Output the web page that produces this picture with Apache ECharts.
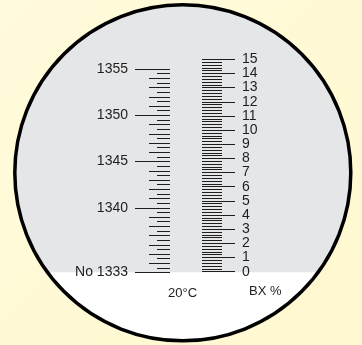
<!DOCTYPE html>
<html>
<head>
<meta charset="utf-8">
<script src="https://cdn.jsdelivr.net/npm/echarts@6/dist/echarts.min.js"></script>
<style>
  html, body { margin: 0; padding: 0; }
  #chart { width: 362px; height: 345px; }
</style>
</head>
<body>
<div id="chart"></div>
<script>
// refractive index scale (nD x 1000, 4th digit), half-unit divisions
const riRange = [1333, 1355];
const riLabelled = [1333, 1340, 1345, 1350, 1355];
// brix scale, 0.2 % divisions
const bxRange = [0, 15];
const bxStep = 1;
const bxMinorSplit = 5;
const footTexts = ["20°C", "BX %"];

const ink = "#1e1e1e";
const cx = 182.8, cy = 172.8, r = 168, waterline = 272.3;

// lower white part of the field of view (circle segment under the scales)
function segmentPoints() {
  const a0 = Math.asin((waterline - cy) / r);
  const pts = [];
  for (let i = 0; i <= 60; i++) {
    const a = a0 + (Math.PI - 2 * a0) * i / 60;
    pts.push([cx + r * Math.cos(a), cy + r * Math.sin(a)]);
  }
  return pts;
}

const chart = echarts.init(document.getElementById("chart"));

const tickStyle = { color: ink, width: 1 };
const noLine = { show: false, onZero: false };

chart.setOption({
  animation: false,
  backgroundColor: "transparent",
  textStyle: { fontFamily: "Liberation Sans, Arial, sans-serif" },
  graphic: [
    {
      type: "rect", z: -20, silent: true,
      shape: { x: 0, y: 0, width: 362, height: 345 },
      style: {
        fill: new echarts.graphic.LinearGradient(0, 0, 1, 1, [
          { offset: 0, color: "#fffbdb" },
          { offset: 1, color: "#fff8d0" }
        ])
      }
    },
    {
      type: "circle", z: -15, silent: true,
      shape: { cx: cx, cy: cy, r: r },
      style: { fill: "#e5e6e8" }
    },
    {
      type: "polygon", z: -14, silent: true,
      shape: { points: segmentPoints() },
      style: { fill: "#ffffff" }
    },
    {
      type: "circle", z: 50, silent: true,
      shape: { cx: cx, cy: cy, r: r },
      style: { fill: null, stroke: "#000", lineWidth: 3.5 }
    },
    {
      type: "text", z: 10, left: 168, top: 287,
      style: { text: footTexts[0], fontSize: 13, fill: ink, fontFamily: "Liberation Sans, Arial, sans-serif" }
    },
    {
      type: "text", z: 10, left: 249, top: 285,
      style: { text: footTexts[1], fontSize: 13, fill: ink, fontFamily: "Liberation Sans, Arial, sans-serif" }
    }
  ],
  grid: [
    { left: 170, width: 10, top: 69, height: 203.5, outerBoundsMode: "none" },
    { left: 190, width: 12, top: 59.3, height: 212.4, outerBoundsMode: "none" }
  ],
  xAxis: [
    { gridIndex: 0, show: false, type: "value", min: 0, max: 1 },
    { gridIndex: 1, show: false, type: "value", min: 0, max: 1 }
  ],
  yAxis: [
    {
      gridIndex: 0, type: "value", position: "left",
      min: riRange[0], max: riRange[1], interval: 1,
      axisLine: noLine,
      axisTick: { show: true, length: 21, lineStyle: tickStyle },
      minorTick: { show: true, splitNumber: 2, length: 13, lineStyle: tickStyle },
      axisLabel: { show: false },
      splitLine: { show: false }
    },
    {
      gridIndex: 0, type: "value", position: "left",
      min: riRange[0], max: riRange[1], interval: 1,
      axisLine: noLine,
      axisTick: { show: true, length: 35, customValues: riLabelled, lineStyle: tickStyle },
      axisLabel: {
        show: true, customValues: riLabelled, margin: 42,
        fontSize: 14, color: ink,
        formatter: (v) => (v === riRange[0] ? "No " + v : String(v))
      },
      splitLine: { show: false }
    },
    {
      gridIndex: 1, type: "value", position: "right",
      min: bxRange[0], max: bxRange[1], interval: bxStep,
      axisLine: noLine,
      axisTick: { show: true, length: 33, lineStyle: tickStyle },
      minorTick: { show: true, splitNumber: bxMinorSplit, length: 20, lineStyle: tickStyle },
      axisLabel: { show: true, margin: 40, fontSize: 14, color: ink, padding: [5, 0, 0, 0] },
      splitLine: { show: false }
    }
  ],
  series: []
});
</script>
</body>
</html>
